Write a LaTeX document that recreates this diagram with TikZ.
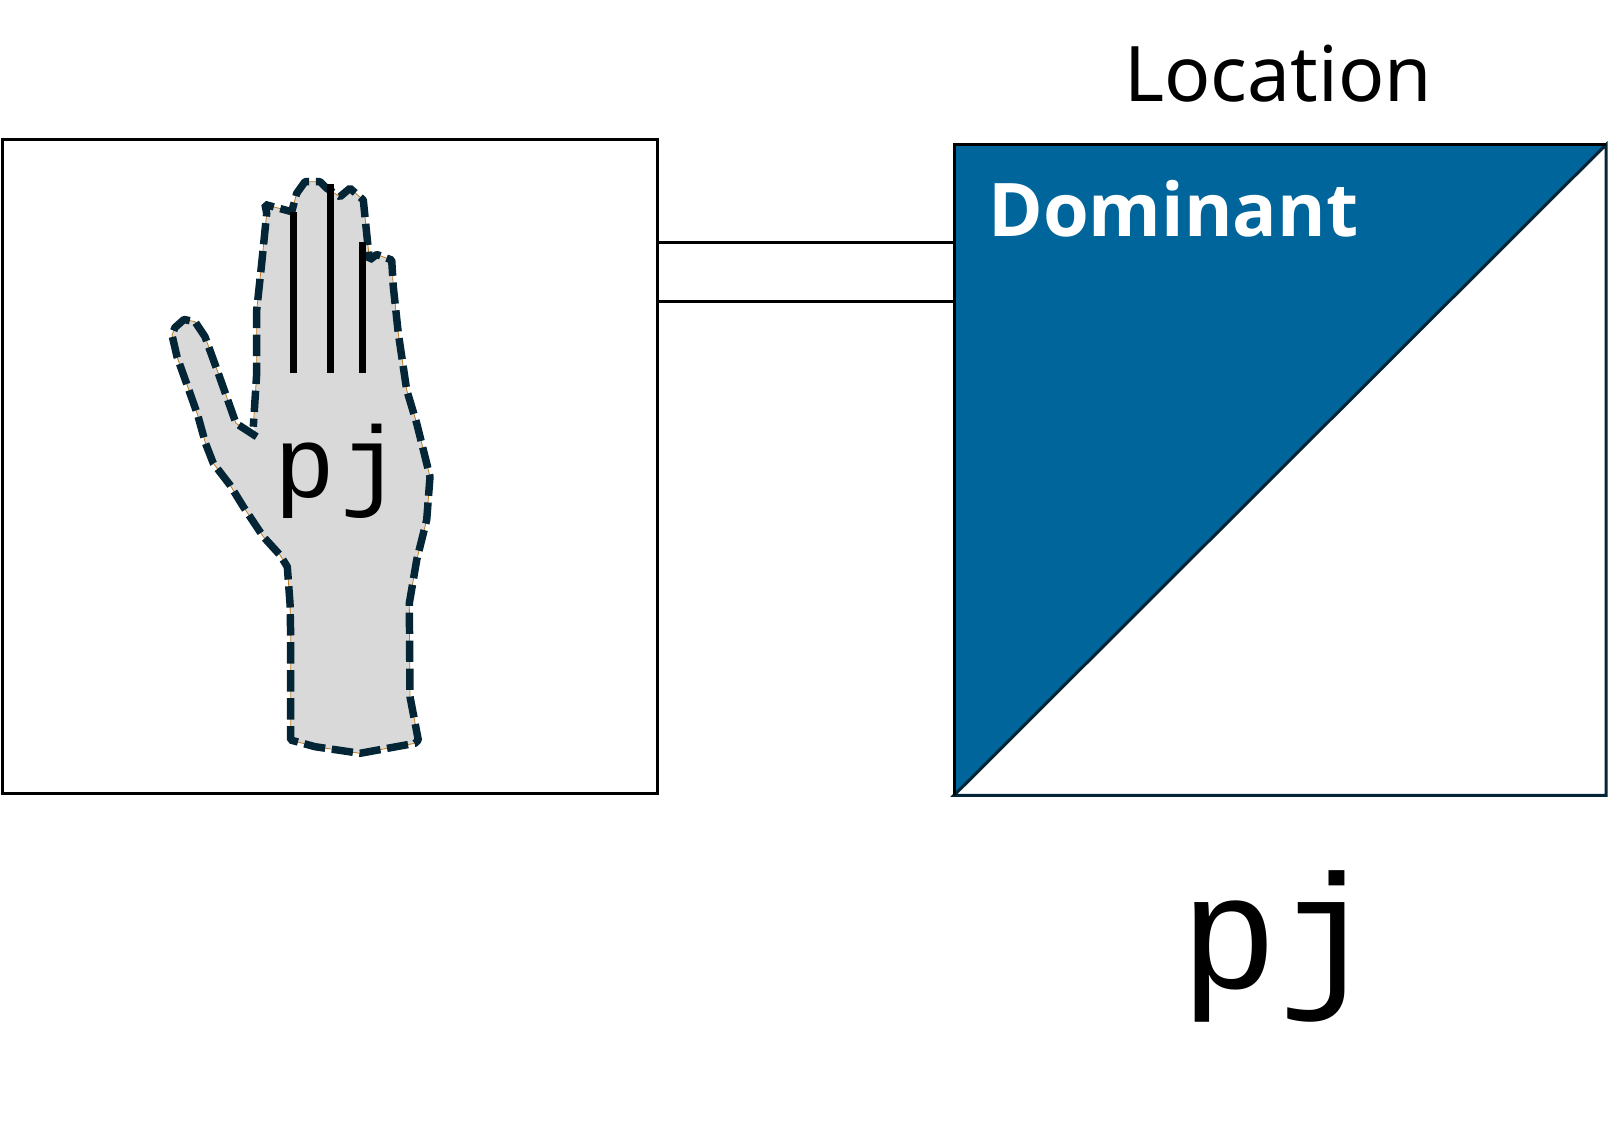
\documentclass[tikz,border=0pt]{standalone}
\usepackage{fontspec}
\setmainfont{Noto Sans}
\newfontfamily\domfont{Open Sans}
\newfontfamily\pjfont{Liberation Mono}
\definecolor{handgray}{RGB}{217,217,217}
\definecolor{handnavy}{RGB}{3,37,54}
\definecolor{handorange}{RGB}{196,124,30}
\definecolor{domblue}{RGB}{0,101,155}
\tikzset{
	box/.style={draw=black,line width=2.25pt,inner sep=0pt,outer sep=0pt},
	link/.style={draw=black,line width=2.25pt},
	finger/.style={draw=black,line width=5.25pt},
}
\newcommand{\handoutline}{(256.7,436.7) -- (236,423.3) -- (218.3,373.3) -- (205,336.7) -- (195,321.7) -- (184,319.5) -- (175,327.5) -- (172,335) -- (177,356.7) -- (187.7,386.7) -- (197.7,415) -- (205.5,443.3) -- (213.3,463.3) -- (230,485) -- (243.3,506.7) -- (263.3,536.7) -- (280,555) -- (287.3,566.7) -- (290,603.3) -- (290.7,636.7) -- (290.7,740) -- (315,746.7) -- (360,753.3) -- (415,743.3) -- (418.3,740) -- (410,696.7) -- (409.3,603.3) -- (416.7,560) -- (426.7,520) -- (430,476.7) -- (416.7,423.3) -- (406.7,390) -- (398.3,333.3) -- (393.3,286.7) -- (391.7,260) -- (376.7,254.5) -- (369.5,260) -- (367,236.7) -- (363.3,200) -- (350,188.3) -- (340,196.7) -- (326.7,188.3) -- (320,181.7) -- (305,181.7) -- (296.7,193.3) -- (291.7,211.7) -- (265,204.5) -- (266.7,213.3) -- (261.7,263.3) -- (256.7,310) -- (256.7,373.3) -- (253.3,426.7)}

\begin{document}
\begin{tikzpicture}[x=0.75pt,y=0.75pt,yscale=-1,xscale=1]
	\path[use as bounding box] (0,0) rectangle (1609,1142);

	% Hand box
	\draw (330,466.5) node (handbox) [box,minimum width=491.25pt,minimum height=490.25pt] {};
	% Location box
	\draw (1280,470) node (locbox) [box,draw=none,minimum width=489pt,minimum height=488pt] {};
	\fill [domblue] (locbox.north west) -- (locbox.north east) -- (locbox.south west) -- cycle;
	\draw [handnavy,line width=2.25pt] (locbox.north east) -- (locbox.south east) -- (locbox.south west) -- cycle;
	\draw [black,line width=2.25pt] (locbox.south west) -- (locbox.north west) -- (locbox.north east);

	% Hand
	\fill [handgray] \handoutline -- cycle;
	\draw [handorange,line width=0.6pt] \handoutline;
	\draw [handnavy,line width=5.6pt,line join=bevel,dash pattern=on 16pt off 5pt] \handoutline;
	\draw [finger] (293.3,212) -- (293.3,372.7);
	\draw [finger] (330.3,184) -- (330.3,372.7);
	\draw [finger] (362.3,242.3) -- (362.3,372.7);

	% Connection
	\coordinate (linktop) at (handbox.east |- 0,242);
	\coordinate (linkbottom) at (handbox.east |- 0,301);
	\draw [link] (linktop) -- (linktop -| locbox.west);
	\draw [link] (linkbottom) -- (linkbottom -| locbox.west);

	% Text Node
	\draw (1278,101) node (loclabel) [anchor=base,inner sep=0pt,font=\fontsize{57.5}{60}\selectfont] {Location};
	% Text Node
	\draw (988,236) node (domlabel) [anchor=base west,inner sep=0pt,text=white,font=\domfont\fontsize{55.5}{60}\selectfont\bfseries] {Dominant};
	% Text Node
	\draw (338,497) node (handpj) [anchor=base,inner sep=0pt,font=\pjfont\fontsize{76}{80}\selectfont] {p\kern3.8pt j};
	% Text Node
	\draw (1278,988) node (bigpj) [anchor=base,inner sep=0pt,font=\pjfont\fontsize{122}{130}\selectfont] {pj};

\end{tikzpicture}
\end{document}
